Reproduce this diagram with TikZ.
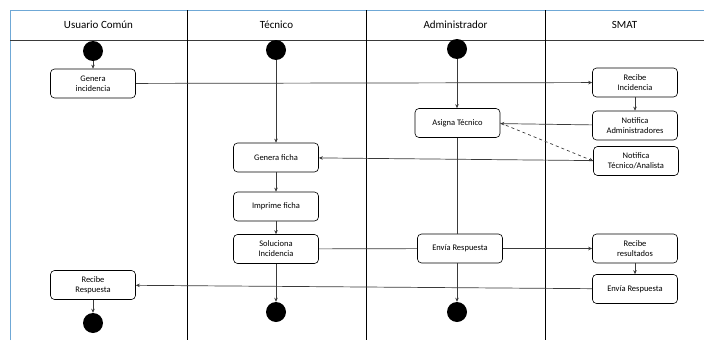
\documentclass[tikz,border=0pt]{standalone}
\usepackage{fontspec}
\setmainfont{Carlito}
\usetikzlibrary{arrows.meta}
\definecolor{framecol}{HTML}{6FA8D6}
\definecolor{linecol}{HTML}{3A3A3A}
\begin{document}
\begin{tikzpicture}[x=1pt,y=-1pt,
  act/.style={draw=black, line width=0.6pt, rounded corners=4pt, fill=white,
    minimum width=85pt, minimum height=29pt, align=center,
    font=\fontsize{8.5}{10}\selectfont, inner sep=1pt},
  dot/.style={circle, fill=black, minimum size=20pt, inner sep=0pt},
  flow/.style={draw=linecol, line width=0.7pt, -{Stealth[length=4pt,width=3.5pt]}},
  plain/.style={draw=linecol, line width=0.7pt},
  lane/.style={font=\fontsize{11}{13}\selectfont}]
\useasboundingbox (0,0) rectangle (704,340);

% swimlane frame
\draw[framecol, line width=1pt] (10,340) -- (10,10) -- (704,10);
\draw[linecol, line width=0.8pt] (10,40) -- (704,40);
\foreach \x in {187,366,545} \draw[black, line width=0.8pt] (\x,10) -- (\x,340);

\node[lane] (h1) at (98.5,25) {Usuario Común};
\node[lane] (h2) at (276.5,25) {Técnico};
\node[lane] (h3) at (455.5,25) {Administrador};
\node[lane] (h4) at (624.5,25) {SMAT};

% start and end states
\node[dot] (s1) at (93,51) {};
\node[dot] (s2) at (276,50) {};
\node[dot] (s3) at (457,49) {};
\node[dot] (e1) at (93,323) {};
\node[dot] (e2) at (276,312) {};
\node[dot] (e3) at (457,312) {};

% activities
\node[act] (gi) at (93,83.5) {Genera\\incidencia};
\node[act] (ri) at (635,82.5) {Recibe\\Incidencia};
\node[act] (na) at (635,125.5) {Notifica\\Administradores};
\node[act] (nt) at (636,161) {Notifica\\Técnico/Analista};
\node[act] (at) at (457.5,123) {Asigna Técnico};
\node[act] (gf) at (276,157.5) {Genera ficha};
\node[act] (imf) at (276,206.5) {Imprime ficha};
\node[act] (si) at (276,249) {Soluciona\\Incidencia};
\node[act] (er) at (460,248.5) {Envía Respuesta};
\node[act] (rr) at (635,248.5) {Recibe\\resultados};
\node[act] (es) at (635,289) {Envía Respuesta};
\node[act] (rs) at (93,285) {Recibe\\Respuesta};

% flows
\draw[flow] (s1) -- (gi);
\draw[flow] (s2) -- (gf);
\draw[flow] (s3) -- (at.north -| s3);
\draw[flow] (gi) -- (ri);
\draw[flow] (ri) -- (na);
\draw[flow] (na) -- (at);
\draw[flow, dashed] (at.east) -- (nt.west);
\draw[flow] (nt) -- (gf);
\draw[flow] (gf) -- (imf);
\draw[flow] (imf) -- (si);
\draw[flow] (si) -- (e2);
\draw[plain] (si) -- (er);
\draw[plain] (at.south -| s3) -- (er.north -| s3);
\draw[flow] (er) -- (rr);
\draw[flow] (er.south -| e3) -- (e3);
\draw[flow] (rr) -- (es);
\draw[flow] (es) -- (rs);
\draw[flow] (rs) -- (e1);
\end{tikzpicture}
\end{document}
